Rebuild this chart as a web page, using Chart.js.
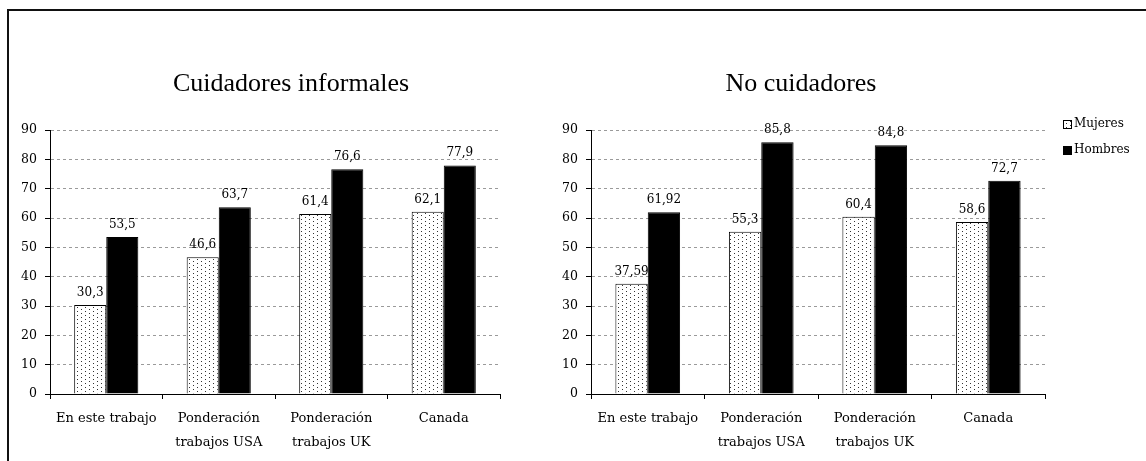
<!DOCTYPE html>
<html>
<head>
<meta charset="utf-8">
<script src="https://cdn.jsdelivr.net/npm/chart.js@4/dist/chart.umd.min.js"></script>
<style>
  html, body { margin: 0; padding: 0; background: #fff; width: 1146px; height: 461px; overflow: hidden; }
  #frame { position: absolute; left: 7px; top: 9px; width: 1200px; height: 500px;
           border-left: 2px solid #111; border-top: 2px solid #111; }
  canvas { position: absolute; top: 0; }
  #cuidadores { left: 0; }
  #noCuidadores { left: 557px; }
</style>
</head>
<body>
<div id="frame"></div>
<canvas id="cuidadores" width="582" height="461"></canvas>
<canvas id="noCuidadores" width="589" height="461"></canvas>
<script>
// ---- data ----
const categories = ['En este trabajo', ['Ponderación', 'trabajos USA'], ['Ponderación', 'trabajos UK'], 'Canada'];
const seriesNames = ['Mujeres', 'Hombres'];
const cuidadoresMujeres = [30.3, 46.6, 61.4, 62.1];
const cuidadoresHombres = [53.5, 63.7, 76.6, 77.9];
const noCuidadoresMujeres = [37.59, 55.3, 60.4, 58.6];
const noCuidadoresHombres = [61.92, 85.8, 84.8, 72.7];
const yTicks = [0, 10, 20, 30, 40, 50, 60, 70, 80, 90];

const SERIF = '"DejaVu Serif", serif';
const TITLE_SERIF = '"Liberation Serif", "Times New Roman", serif';
Chart.defaults.color = '#000';
Chart.defaults.font.family = SERIF;

// fine dot fill used for the "Mujeres" bars
function dotPattern() {
  const tile = document.createElement('canvas');
  tile.width = 8; tile.height = 4;
  const g = tile.getContext('2d');
  g.fillStyle = '#fff';
  g.fillRect(0, 0, 8, 4);
  g.fillStyle = '#333';
  g.fillRect(1, 1, 1, 1);
  g.fillRect(5, 3, 1, 1);
  return g.createPattern(tile, 'repeat');
}

// value written above every bar, with a decimal comma
const valueLabels = {
  id: 'valueLabels',
  afterDatasetsDraw(chart, args, opts) {
    const ctx = chart.ctx;
    ctx.save();
    ctx.font = opts.font;
    ctx.fillStyle = '#000';
    ctx.textAlign = 'center';
    ctx.textBaseline = 'alphabetic';
    chart.data.datasets.forEach((ds, i) => {
      chart.getDatasetMeta(i).data.forEach((bar, j) => {
        ctx.fillText(String(ds.data[j]).replace('.', ','), bar.x, bar.y - opts.offset);
      });
    });
    ctx.restore();
  }
};

// small legend in the right-hand margin, built from the library's legend items
const sideLegend = {
  id: 'sideLegend',
  afterDraw(chart, args, opts) {
    const items = (chart.legend && chart.legend.legendItems) ||
      Chart.defaults.plugins.legend.labels.generateLabels(chart);
    const ctx = chart.ctx;
    ctx.save();
    ctx.font = opts.font;
    ctx.textAlign = 'left';
    ctx.textBaseline = 'middle';
    items.forEach((it, i) => {
      const cy = opts.y + i * opts.spacing;
      const bx = opts.x, by = Math.round(cy - opts.box / 2);
      ctx.fillStyle = it.fillStyle;
      ctx.fillRect(bx, by, opts.box, opts.box);
      ctx.strokeStyle = '#000';
      ctx.lineWidth = 1;
      ctx.strokeRect(bx + 0.5, by + 0.5, opts.box - 1, opts.box - 1);
      ctx.fillStyle = '#000';
      ctx.fillText(it.text, bx + opts.box + 2, cy);
    });
    ctx.restore();
  }
};

function makeChart(id, title, mujeres, hombres, geom, extraPlugins, extraScales, extraPluginOpts) {
  const scales = Object.assign({
    x: {
      offset: true,
      grid: { display: true, offset: true, drawOnChartArea: false, drawTicks: true, tickLength: 5, tickColor: '#000' },
      border: { display: true, color: '#000', width: 1 },
      ticks: { color: '#000', font: { family: SERIF, size: 13, lineHeight: 1.82 }, padding: 8, maxRotation: 0, autoSkip: false },
      afterFit: s => { s.height = 67; }
    },
    y: {
      min: 0, max: 90,
      afterBuildTicks: s => { s.ticks = yTicks.map(v => ({ value: v })); },
      grid: { color: '#9a9a9a', tickColor: '#000', tickLength: 5, drawTicks: true },
      border: { display: true, color: '#000', width: 1, dash: [3, 3] },
      ticks: { color: '#000', font: { family: SERIF, size: 12.5 }, padding: 8 },
      afterFit: s => { s.width = geom.yAxisWidth; }
    }
  }, extraScales || {});

  return new Chart(document.getElementById(id), {
    type: 'bar',
    data: {
      labels: categories,
      datasets: [
        { label: seriesNames[0], data: mujeres, backgroundColor: dotPattern(), borderColor: '#000', borderWidth: 1 },
        { label: seriesNames[1], data: hombres, backgroundColor: '#000', borderColor: '#000', borderWidth: 1 }
      ]
    },
    options: {
      responsive: false,
      animation: false,
      events: [],
      datasets: { bar: { barPercentage: 1, categoryPercentage: 0.57 } },
      layout: { padding: { left: 0, right: geom.padRight, top: 0, bottom: 0 } },
      plugins: Object.assign({
        legend: { display: false },
        tooltip: { enabled: false },
        title: {
          display: true, text: title, color: '#000',
          font: { family: TITLE_SERIF, size: 26, weight: 'normal', lineHeight: 1.2 },
          padding: { top: 68.4, bottom: 30.4 }
        },
        valueLabels: { font: '12px ' + SERIF, offset: 9 }
      }, extraPluginOpts || {}),
      scales
    },
    plugins: [valueLabels].concat(extraPlugins || [])
  });
}

// left panel: an empty right-hand axis keeps the title centred over the whole panel
makeChart('cuidadores', 'Cuidadores informales', cuidadoresMujeres, cuidadoresHombres,
  { yAxisWidth: 50, padRight: 0 }, [],
  {
    yRight: {
      position: 'right', display: true,
      grid: { display: false }, border: { display: false }, ticks: { display: false },
      afterFit: s => { s.width = 82; }
    }
  });

// right panel with the series legend in its right margin
makeChart('noCuidadores', 'No cuidadores', noCuidadoresMujeres, noCuidadoresHombres,
  { yAxisWidth: 34, padRight: 101 }, [sideLegend], null,
  { sideLegend: { x: 506, y: 124, spacing: 26, box: 9, font: '12px ' + SERIF } });
</script>
</body>
</html>
